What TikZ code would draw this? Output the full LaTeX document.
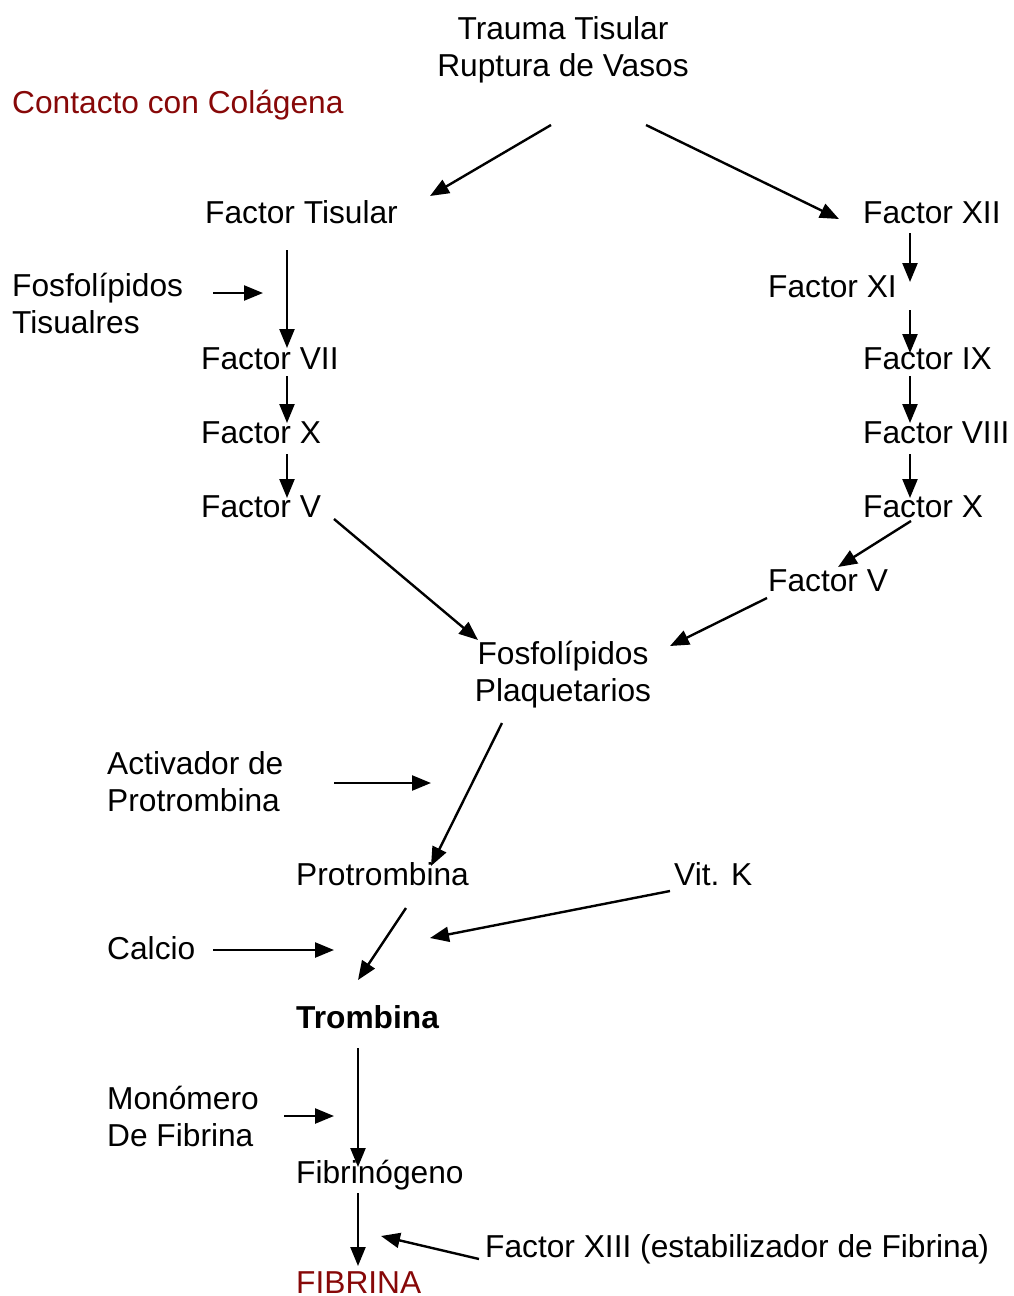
\documentclass[tikz,border=0pt]{standalone}
\usepackage{fontspec}
\setmainfont{Liberation Sans}
\usetikzlibrary{arrows.meta}
\definecolor{darkred}{RGB}{135,8,8}
\begin{document}
\begin{tikzpicture}[x=1pt,y=-1pt,
  lbl/.style={inner sep=0pt,anchor=base west,font=\fontsize{31.7}{36.5}\selectfont,align=left},
  clbl/.style={inner sep=0pt,anchor=base,font=\fontsize{31.7}{36.5}\selectfont,align=center},
  arr/.style={line width=2.4pt,-{Triangle[length=19pt,width=15pt]}}]
\useasboundingbox (0,0) rectangle (1013,1296);
% texts (two-line nodes are placed at the baseline of their last line)
\node[clbl] (trauma) at (563,76) {Trauma Tisular\\Ruptura de Vasos};
\node[lbl,text=darkred] (contacto) at (12,113) {Contacto con Colágena};
\node[lbl] (ftis) at (205,223) {Factor Tisular};
\node[lbl] (fxii) at (863,223) {Factor XII};
\node[lbl] (fostis) at (12,333) {Fosfolípidos\\Tisualres};
\node[lbl] (fxi) at (768,297) {Factor XI};
\node[lbl] (fvii) at (201,369) {Factor VII};
\node[lbl] (fix) at (863,369) {Factor IX};
\node[lbl] (fxl) at (201,443) {Factor X};
\node[lbl] (fviii) at (863,443) {Factor VIII};
\node[lbl] (fvl) at (201,517) {Factor V};
\node[lbl] (fxr) at (863,517) {Factor X};
\node[lbl] (fvr) at (768,591) {Factor V};
\node[clbl] (fosplaq) at (563,701) {Fosfolípidos\\Plaquetarios};
\node[lbl] (activ) at (107,811) {Activador de\\Protrombina};
\node[lbl] (protro) at (296,885) {Protrombina};
\node[lbl] (vitk) at (674,885) {Vit. K};
\node[lbl] (calcio) at (107,959) {Calcio};
\node[lbl,font=\fontsize{31.7}{36.5}\selectfont\bfseries] (trombina) at (296,1028) {Trombina};
\node[lbl] (monom) at (107,1146) {Monómero\\De Fibrina};
\node[lbl] (fibrinog) at (296,1183) {Fibrinógeno};
\node[lbl] (fxiii) at (485,1257) {Factor XIII (estabilizador de Fibrina)};
\node[lbl,text=darkred] (fibrina) at (296,1293) {FIBRINA};
% connector end points
\coordinate (a1s) at (551,125); \coordinate (a1e) at (430,196);
\coordinate (a2s) at (646,125); \coordinate (a2e) at (839,219);
\coordinate (a3s) at (287,250); \coordinate (a3e) at (287,348);
\coordinate (a4s) at (213,293); \coordinate (a4e) at (263,293);
\coordinate (a5s) at (287,376); \coordinate (a5e) at (287,423);
\coordinate (a6s) at (287,454); \coordinate (a6e) at (287,498);
\coordinate (a7s) at (910,233); \coordinate (a7e) at (910,282);
\coordinate (a8s) at (910,310); \coordinate (a8e) at (910,353);
\coordinate (a9s) at (910,376); \coordinate (a9e) at (910,423);
\coordinate (a10s) at (910,454); \coordinate (a10e) at (910,498);
\coordinate (a11s) at (911,521); \coordinate (a11e) at (838,567);
\coordinate (a12s) at (334,519); \coordinate (a12e) at (478,640);
\coordinate (a13s) at (767,598); \coordinate (a13e) at (670,646);
\coordinate (a14s) at (502,723); \coordinate (a14e) at (431,866);
\coordinate (a15s) at (334,783); \coordinate (a15e) at (431,783);
\coordinate (a16s) at (406,908); \coordinate (a16e) at (358,980);
\coordinate (a17s) at (670,891); \coordinate (a17e) at (430,938);
\coordinate (a18s) at (213,950); \coordinate (a18e) at (334,950);
\coordinate (a19s) at (358,1048); \coordinate (a19e) at (358,1167);
\coordinate (a20s) at (284,1116); \coordinate (a20e) at (334,1116);
\coordinate (a21s) at (358,1193); \coordinate (a21e) at (358,1266);
\coordinate (a22s) at (479,1259); \coordinate (a22e) at (381,1236);
% connectors
\foreach \i in {1,...,22}{\draw[arr] (a\i s) -- (a\i e);}
\end{tikzpicture}
\end{document}
